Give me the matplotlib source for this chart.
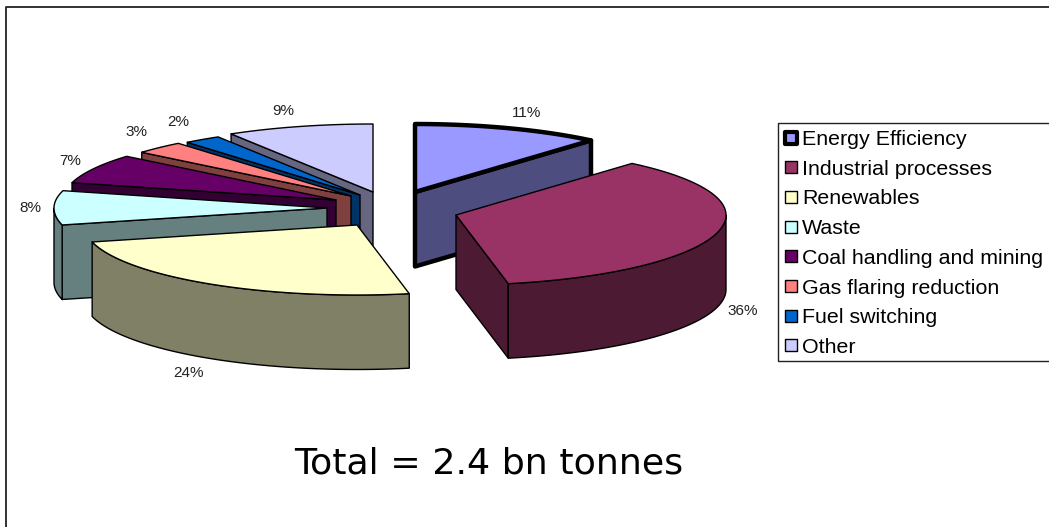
import numpy as np
import matplotlib
matplotlib.use('Agg')
import matplotlib.pyplot as plt
from matplotlib.patches import Polygon, Rectangle

labels = ['Energy Efficiency', 'Industrial processes', 'Renewables', 'Waste',
          'Coal handling and mining', 'Gas flaring reduction', 'Fuel switching', 'Other']
values = [11.3, 35.6, 24.2, 8, 7, 3, 2.2, 8.7]
colors = ['#9999ff', '#993366', '#ffffcc', '#ccffff', '#660066', '#ff8080', '#0066cc', '#ccccff']
side_colors = ['#4d4d80', '#4d1a33', '#808066', '#668080', '#330033', '#804040', '#003366', '#666680']

# apex of each exploded slice, in pixels
apex_x = [415, 456, 357, 327, 336, 351, 360, 373]
apex_y = [192, 215, 225, 208, 200, 196, 195, 192]
# where the percent labels sit
label_x = [527, 743, 188, 30, 70, 136, 178, 283]
label_y = [113, 311, 373, 208, 161, 132, 122, 111]

rx_right = 270
rx_left = 273
ry_back = 68
ry_front = 70
depth = 74.5

fig = plt.figure(figsize=(10.49, 5.27), dpi=100)
ax = fig.add_axes([0, 0, 1, 1])
ax.set_xlim(0, 1049)
ax.set_ylim(527, 0)
ax.axis('off')

# outer frame, only the top and left edges show
ax.plot([6, 6, 1049], [527, 6.5, 6.5], color='#222222', lw=1.3)


def rim(a, b, cx, cy):
    t = np.radians(np.linspace(a, b, 80))
    s, c = np.sin(t), np.cos(t)
    return cx + np.where(s > 0, rx_right, rx_left) * s, cy - np.where(c > 0, ry_back, ry_front) * c


def draw_slice(i, a, b, lw):
    cx, cy = apex_x[i], apex_y[i]
    x, y = rim(a, b, cx, cy)
    kw = dict(edgecolor='black', lw=lw, joinstyle='round')
    # radial wall at the start of the slice, seen on the left half only
    if a >= 180:
        pts = [(cx, cy), (x[0], y[0]), (x[0], y[0] + depth), (cx, cy + depth)]
        ax.add_patch(Polygon(pts, facecolor=side_colors[i], **kw))
    # radial wall at the end of the slice, seen on the right half only
    if b <= 180:
        pts = [(cx, cy), (x[-1], y[-1]), (x[-1], y[-1] + depth), (cx, cy + depth)]
        ax.add_patch(Polygon(pts, facecolor=side_colors[i], **kw))
    # outer wall, front half only
    lo, hi = max(a, 90), min(b, 270)
    if hi > lo:
        wx, wy = rim(lo, hi, cx, cy)
        pts = np.r_[np.c_[wx, wy], np.c_[wx, wy + depth][::-1]]
        ax.add_patch(Polygon(pts, facecolor=side_colors[i], **kw))
    pts = np.r_[[(cx, cy)], np.c_[x, y]]
    ax.add_patch(Polygon(pts, facecolor=colors[i], **kw))


ends = np.cumsum(values) / np.sum(values) * 360
starts = np.r_[0, ends[:-1]]
for i in [7, 6, 5, 4, 3, 0, 1, 2]:
    draw_slice(i, starts[i], ends[i], 3.2 if i == 0 else 1.0)

for i in range(len(values)):
    ax.text(label_x[i], label_y[i], '%d%%' % round(values[i]), fontsize=11, color='#222222',
            ha='center', va='center', family=['Liberation Sans', 'DejaVu Sans'])

# legend box
ax.add_patch(Rectangle((777.5, 122.5), 272, 238, facecolor='white', edgecolor='#222222', lw=1))
for i, name in enumerate(labels):
    y = 137.5 + i * 29.7
    lw = 3.0 if i == 0 else 1.0
    size = 12
    ax.add_patch(Rectangle((790.5 - size / 2, y - size / 2), size, size, facecolor=colors[i],
                           edgecolor='black', lw=lw, joinstyle='round'))
    ax.text(802, y, name, fontsize=15.4, color='black', ha='left', va='center_baseline',
            family=['Liberation Sans', 'DejaVu Sans'])

ax.text(489, 463, 'Total = 2.4 bn tonnes', fontsize=26.2, color='black', ha='center', va='center',
        family=['DejaVu Sans'])

fig.savefig('out.png', dpi=100)
